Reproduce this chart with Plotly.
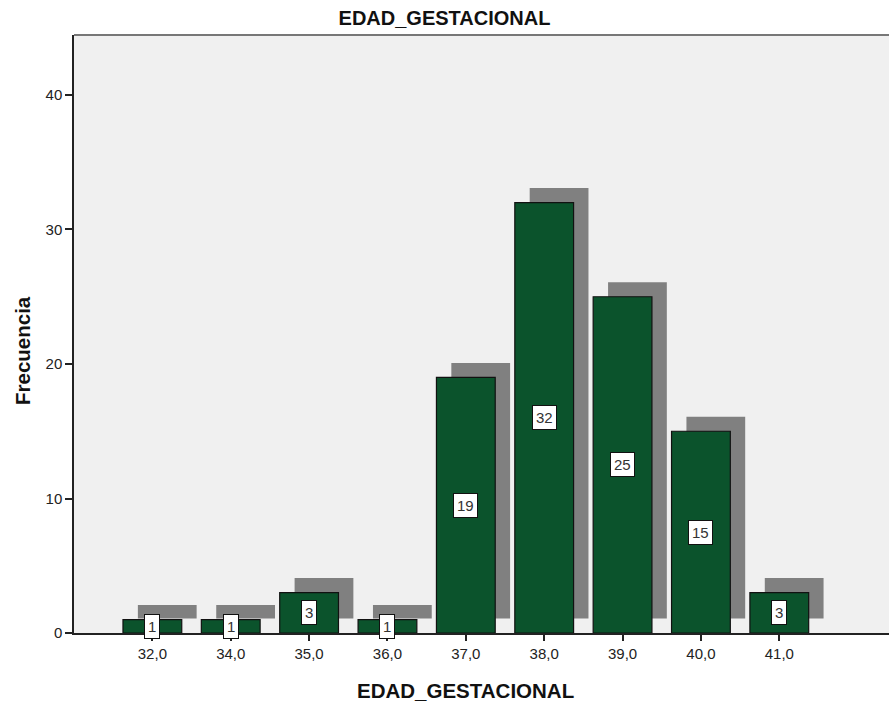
import plotly.graph_objects as go

categories = ["32,0", "34,0", "35,0", "36,0", "37,0", "38,0", "39,0", "40,0", "41,0"]
frecuencia = [1, 1, 3, 1, 19, 32, 25, 15, 3]
y_ticks = [0, 10, 20, 30, 40]

GREEN = "#0b532c"
SHADOW = "#808080"
BG = "#f0f0f0"
FONT = "Liberation Sans, Arial, sans-serif"

idx = list(range(len(categories)))
shadow_dx = 0.19
shadow_dy = 1.08
bar_w = 0.75

fig = go.Figure()
fig.add_trace(go.Bar(
    x=[i + shadow_dx for i in idx], y=frecuencia, base=shadow_dy,
    width=bar_w, marker=dict(color=SHADOW, line=dict(width=0)),
    hoverinfo="skip", showlegend=False,
))
fig.add_trace(go.Bar(
    x=idx, y=frecuencia, width=bar_w,
    marker=dict(color=GREEN, line=dict(color="#111111", width=1.2)),
    showlegend=False,
))

for i, v in zip(idx, frecuencia):
    fig.add_annotation(
        x=i, y=v / 2, text=str(v), showarrow=False,
        bgcolor="white", bordercolor="#111111", borderwidth=1, borderpad=3,
        font=dict(family=FONT, size=15, color="#333333"),
    )

# axis titles (SPSS places them slightly off the plot-area centre)
fig.add_annotation(
    text="<b>EDAD_GESTACIONAL</b>", xref="paper", yref="paper",
    x=(465 - 74) / 815, y=(633 - 690) / 598, xanchor="center", yanchor="middle",
    showarrow=False, font=dict(family=FONT, size=20.5, color="#111111"),
)
fig.add_annotation(
    text="<b>Frecuencia</b>", xref="paper", yref="paper", textangle=-90,
    x=(22 - 74) / 815, y=(633 - 350) / 598, xanchor="center", yanchor="middle",
    showarrow=False, font=dict(family=FONT, size=20.5, color="#111111"),
)

fig.update_layout(
    width=889, height=706,
    margin=dict(l=74, r=0, t=35, b=73),
    paper_bgcolor="white", plot_bgcolor=BG,
    barmode="overlay",
    font=dict(family=FONT, size=15, color="#222222"),
    title=dict(text="<b>EDAD_GESTACIONAL</b>", x=0.5, xref="container", xanchor="center",
               y=1 - 18 / 706, yref="container", yanchor="middle",
               font=dict(family=FONT, size=20, color="#111111")),
    xaxis=dict(
        range=[-1.0, 9.4], tickmode="array", tickvals=idx, ticktext=categories,
        ticks="outside", ticklen=6, tickwidth=1.5, tickcolor="#222222",
        showline=True, linecolor="#222222", linewidth=1.5,
        showgrid=False, zeroline=False,
        tickfont=dict(family=FONT, size=15, color="#222222"),
    ),
    yaxis=dict(
        range=[0, 44.46], tickmode="array", tickvals=y_ticks,
        ticks="outside", ticklen=7, tickwidth=1.5, tickcolor="#222222",
        showline=True, linecolor="#222222", linewidth=1.5,
        showgrid=False, zeroline=False,
        tickfont=dict(family=FONT, size=15, color="#222222"),
    ),
)
fig.add_shape(type="line", xref="paper", yref="paper", x0=0, x1=1, y0=1, y1=1,
              line=dict(color="#777777", width=2))

fig.write_html("out.html")
